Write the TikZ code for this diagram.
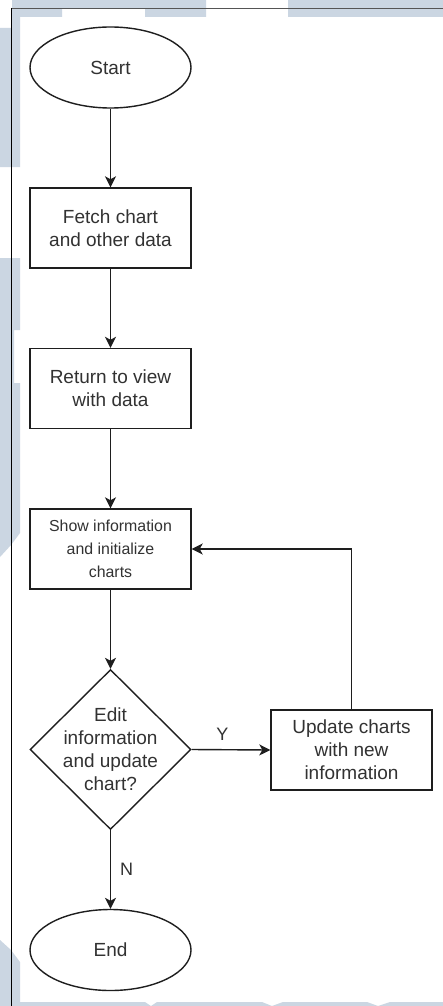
\documentclass[tikz,border=0pt]{standalone}
\usepackage{fontspec}
\setmainfont{Liberation Sans}
\usetikzlibrary{shapes.geometric,arrows.meta}
\definecolor{wm}{RGB}{203,214,226}
\definecolor{ink}{RGB}{30,30,30}
\definecolor{txt}{RGB}{50,50,50}
\definecolor{frameline}{RGB}{85,85,85}
\begin{document}
\begin{tikzpicture}[x=1pt,y=-1pt,
  shp/.style={draw=ink,line width=1.4pt,inner sep=0pt,align=center,text=txt,font=\fontsize{19}{23}\selectfont},
  box/.style={shp,rectangle,minimum width=161pt,minimum height=80pt},
  term/.style={shp,ellipse,minimum width=161pt,minimum height=81pt},
  dia/.style={shp,diamond,minimum width=161pt,minimum height=160pt},
  lbl/.style={inner sep=0pt,text=txt,font=\fontsize{18}{21}\selectfont},
  arr/.style={draw=ink,line width=1.4pt,-{Stealth[length=11pt,width=11pt,inset=3pt]}}
]
\useasboundingbox (0,0) rectangle (443,1006);
% background watermark
\fill[white] (0,0) rectangle (443,1006);
\fill[wm] (12,0) rectangle (206,8.5) (288,0) rectangle (443,17);
\fill[wm] (12,8) rectangle (62,17) (145,8) rectangle (206,17);
\fill[wm] (0,28) -- (12,28) -- (12,17) -- (20,17) -- (20,167) -- (0,167) -- cycle;
\fill[wm] (0,258) -- (20,258) -- (20,330) -- (14,330) -- (14,383) -- (20,383) -- (20,533) -- (11,545) -- (0,557) -- cycle;
\fill[wm] (0,940) -- (11,950) -- (20,962) -- (20,1006) -- (0,1006) -- cycle;
\fill[wm] (12,1002) -- (145,1002) -- (151,1006) -- (157,1002) -- (262,1002) -- (272,1006) -- (283,1002) -- (367,1002) -- (378,1006) -- (390,1002) -- (443,1002) -- (443,1006) -- (12,1006) -- cycle;
% frame
\draw[frameline,line width=1pt] (11.7,8.5) -- (443,8.5);
\draw[black,line width=1pt] (11.7,8) -- (11.7,1006);
% nodes
\node[term] (start) at (110.5,67.5) {Start};
\node[box] (fetch) at (110.5,228) {Fetch chart\\and other data};
\node[box] (ret) at (110.5,388.5) {Return to view\\with data};
\node[box,font=\fontsize{15.9}{23}\selectfont] (show) at (110.5,549) {Show information\\and initialize\\charts};
\node[dia] (dec) at (110.5,749.5) {};
\node[shp,draw=none] (dectext) at (dec.center) {Edit\\information\\and update\\chart?};
\node[box] (upd) at (351.5,750) {Update charts\\with new\\information};
\node[term] (endn) at (110.5,950) {End};
% connectors
\draw[arr] (start) -- (fetch);
\draw[arr] (fetch) -- (ret);
\draw[arr] (ret) -- (show);
\draw[arr] (show) -- (dec.north);
\draw[arr] (dec.east) -- node[lbl,pos=0.39,above=9pt] (ylab) {Y} (upd.west);
\draw[arr] (upd.north) |- (show.east);
\draw[arr] (dec.south) -- node[lbl,midway,right=9pt] (nlab) {N} (endn.north);
\end{tikzpicture}
\end{document}
